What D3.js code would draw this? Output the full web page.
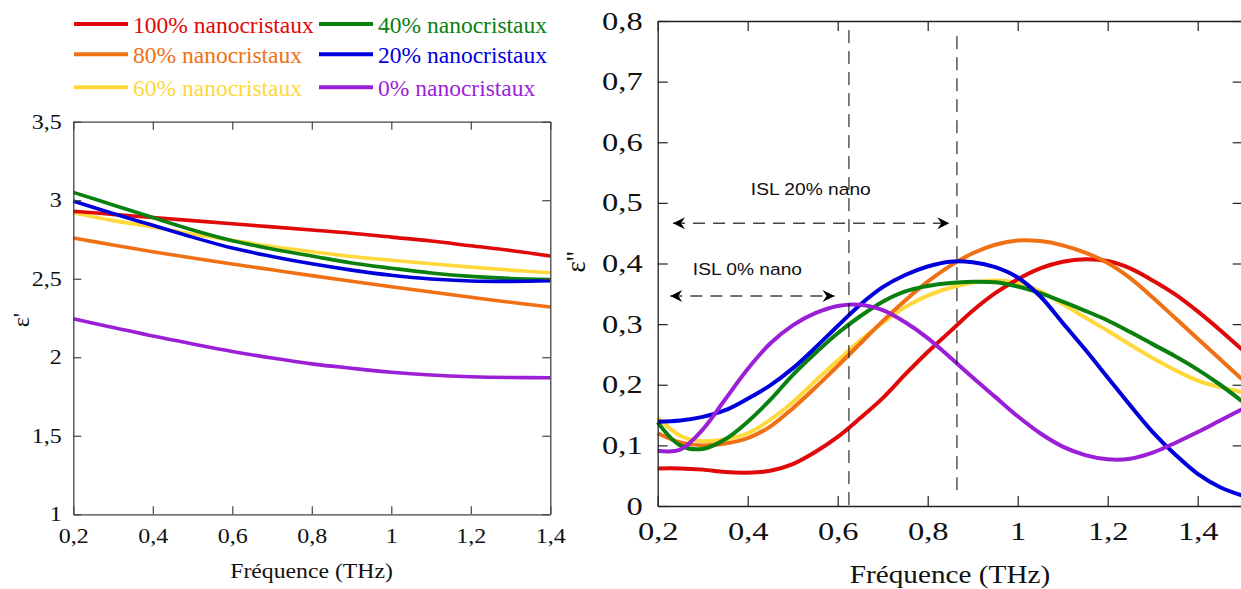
<!DOCTYPE html>
<html><head><meta charset="utf-8">
<script src="https://cdn.jsdelivr.net/npm/d3@7"></script>
<style>
html,body{margin:0;padding:0;background:#fff;}
svg{display:block;}
text{font-family:"Liberation Serif","Times New Roman",serif;}
.sans{font-family:"Liberation Sans",Arial,sans-serif;}
</style></head>
<body>
<svg id="chart" width="1241" height="589"></svg>
<script>
// ---------- DATA ----------
const seriesNames = ["100% nanocristaux","80% nanocristaux","60% nanocristaux","40% nanocristaux","20% nanocristaux","0% nanocristaux"];
const seriesColors = ["#e00808","#f07014","#ffd83c","#0a800f","#0000dc","#9b1fd6"];

// Left panel: epsilon' vs frequency (THz)
const freqLeft = [0.2,0.3,0.4,0.5,0.6,0.7,0.8,0.9,1.0,1.1,1.2,1.3,1.4];
const epsReal100 = [2.93,2.91,2.89,2.87,2.85,2.83,2.81,2.79,2.765,2.74,2.71,2.68,2.645];
const epsReal80  = [2.76,2.715,2.672,2.632,2.594,2.557,2.52,2.484,2.449,2.415,2.382,2.35,2.32];
const epsReal60  = [2.92,2.87,2.83,2.785,2.745,2.705,2.672,2.642,2.618,2.595,2.574,2.555,2.538];
const epsReal40  = [3.05,2.97,2.89,2.81,2.742,2.69,2.645,2.60,2.567,2.537,2.515,2.502,2.495];
const epsReal20  = [2.995,2.915,2.84,2.765,2.695,2.642,2.595,2.555,2.522,2.498,2.486,2.483,2.487];
const epsReal0   = [2.245,2.19,2.135,2.085,2.037,1.995,1.958,1.93,1.905,1.887,1.876,1.871,1.87];

// Right panel: epsilon'' vs frequency (THz)
const freqRight = [0.2,0.25,0.3,0.35,0.4,0.45,0.5,0.55,0.6,0.65,0.7,0.75,0.8,0.85,0.9,0.95,1.0,1.05,1.1,1.15,1.2,1.25,1.3,1.35,1.4,1.45,1.5];
const epsImag100 = [0.062,0.062,0.06,0.056,0.055,0.058,0.069,0.089,0.114,0.145,0.178,0.217,0.254,0.288,0.322,0.351,0.374,0.392,0.403,0.407,0.404,0.392,0.372,0.349,0.321,0.29,0.257];
const epsImag80  = [0.12,0.105,0.1,0.103,0.112,0.131,0.161,0.195,0.231,0.268,0.305,0.339,0.37,0.396,0.417,0.431,0.438,0.437,0.43,0.418,0.401,0.376,0.344,0.31,0.276,0.242,0.208];
const epsImag60  = [0.146,0.116,0.107,0.11,0.12,0.142,0.171,0.206,0.24,0.273,0.302,0.328,0.347,0.36,0.368,0.372,0.368,0.354,0.333,0.311,0.289,0.266,0.244,0.224,0.207,0.196,0.188];
const epsImag40  = [0.138,0.1,0.094,0.11,0.139,0.175,0.216,0.252,0.285,0.313,0.337,0.354,0.363,0.368,0.37,0.369,0.362,0.351,0.337,0.322,0.306,0.287,0.267,0.247,0.225,0.2,0.172];
const epsImag20  = [0.139,0.141,0.147,0.158,0.177,0.199,0.227,0.261,0.297,0.332,0.361,0.381,0.395,0.403,0.402,0.394,0.377,0.346,0.302,0.258,0.212,0.166,0.122,0.085,0.053,0.031,0.017];
const epsImag0   = [0.091,0.093,0.126,0.176,0.226,0.268,0.298,0.318,0.33,0.332,0.323,0.303,0.277,0.245,0.212,0.18,0.148,0.12,0.098,0.084,0.077,0.078,0.088,0.104,0.122,0.141,0.16];

// Ticks
const leftXTicks  = [0.2,0.4,0.6,0.8,1.0,1.2,1.4];
const leftYTicks  = [1,1.5,2,2.5,3,3.5];
const rightXTicks = [0.2,0.4,0.6,0.8,1.0,1.2,1.4];
const rightYTicks = [0,0.1,0.2,0.3,0.4,0.5,0.6,0.7,0.8];

// Annotations (data coordinates)
const islLabels = ["ISL 20% nano","ISL 0% nano"];
const islTextPos = [[0.407,0.513],[0.278,0.381]];
const islArrows = [[0.234,0.848,0.4665],[0.228,0.593,0.3465]];
const islVLines = [[0.625,0.785,0.0],[0.865,0.775,0.018]];

// ---------- DRAW ----------
const svg = d3.select("#chart");
const fmt = d => String(+d.toFixed(2)).replace(".", ",");

const leftData = [epsReal100,epsReal80,epsReal60,epsReal40,epsReal20,epsReal0];
const rightData = [epsImag100,epsImag80,epsImag60,epsImag40,epsImag20,epsImag0];
const drawOrder = [2,0,1,3,4,5];

function panel(cfg) {
  const x = d3.scaleLinear().domain(cfg.xDomain).range([cfg.x0, cfg.x1]);
  const y = d3.scaleLinear().domain(cfg.yDomain).range([cfg.y1, cfg.y0]);
  const g = svg.append("g");

  const line = d3.line().x(d => x(d[0])).y(d => y(d[1])).curve(d3.curveCatmullRom.alpha(0.5));
  drawOrder.forEach(i => {
    const pts = cfg.freq.map((f, k) => [f, cfg.data[i][k]]);
    g.append("path").attr("d", line(pts)).attr("fill", "none")
      .attr("stroke", seriesColors[i]).attr("stroke-width", cfg.lw)
      .attr("stroke-linejoin", "round").attr("stroke-linecap", "butt");
  });

  const axStyle = sel => {
    sel.select(".domain").attr("stroke", cfg.frameColor).attr("stroke-width", 1.3);
    sel.selectAll(".tick line").attr("stroke", cfg.frameColor).attr("stroke-width", 1.2);
  };
  const gb = g.append("g").attr("transform", `translate(0,${cfg.y1})`)
    .call(d3.axisBottom(x).tickValues(cfg.xTicks).tickSizeInner(-cfg.tick).tickSizeOuter(0)
      .tickPadding(cfg.xPad).tickFormat(fmt));
  axStyle(gb);
  gb.selectAll("text").attr("font-size", cfg.fs).attr("fill", "#111")
    .style("font-family", "'Liberation Serif','Times New Roman',serif")
    .attr("transform", `scale(${cfg.sx},1)`);
  const gt = g.append("g").attr("transform", `translate(0,${cfg.y0})`)
    .call(d3.axisTop(x).tickValues(cfg.xTicks).tickSizeInner(-cfg.tick).tickSizeOuter(0).tickFormat(""));
  axStyle(gt);
  const gl = g.append("g").attr("transform", `translate(${cfg.x0},0)`)
    .call(d3.axisLeft(y).tickValues(cfg.yTicks).tickSizeInner(-cfg.tick).tickSizeOuter(0)
      .tickPadding(cfg.yGap / cfg.sx).tickFormat(fmt));
  axStyle(gl);
  gl.selectAll("text").attr("font-size", cfg.fs).attr("fill", "#111")
    .style("font-family", "'Liberation Serif','Times New Roman',serif")
    .attr("transform", `scale(${cfg.sx},1)`);
  const gr = g.append("g").attr("transform", `translate(${cfg.x1},0)`)
    .call(d3.axisRight(y).tickValues(cfg.yTicks).tickSizeInner(-cfg.tick).tickSizeOuter(0).tickFormat(""));
  axStyle(gr);

  g.append("text").attr("text-anchor", "middle")
    .attr("transform", `translate(${cfg.xTitle[0]},${cfg.xTitle[1]}) scale(${cfg.xTitleSx},1)`)
    .attr("font-size", cfg.xTitleFs).attr("fill", "#111").text("Fréquence (THz)");
  g.append("text").attr("text-anchor", "middle")
    .attr("transform", `translate(${cfg.yTitle[0]},${cfg.yTitle[1]}) rotate(-90)`)
    .attr("font-size", cfg.yTitleFs).attr("fill", "#111").text(cfg.yLabel);
  return {x, y, g};
}

panel({
  xDomain:[0.2,1.4], yDomain:[1,3.5], x0:73.3, x1:550.3, y0:121.7, y1:514.3,
  freq:freqLeft, data:leftData, lw:3.6, frameColor:"#444", tick:8,
  xTicks:leftXTicks, yTicks:leftYTicks, fs:20, sx:1.2, xPad:14.5, yGap:11.6,
  xTitle:[311.5,578], xTitleFs:21, xTitleSx:1.13, yTitle:[29,320], yTitleFs:24, yLabel:"ε'"
});

const R = panel({
  xDomain:[0.2,1.5], yDomain:[0,0.8], x0:657.7, x1:1242.7, y0:21, y1:506,
  freq:freqRight, data:rightData, lw:4, frameColor:"#222", tick:10,
  xTicks:rightXTicks, yTicks:rightYTicks, fs:25, sx:1.3, xPad:16.3, yGap:15,
  xTitle:[950,583], xTitleFs:25, xTitleSx:1.17, yTitle:[585,262], yTitleFs:27, yLabel:"ε''"
});

const defs = svg.append("defs");
defs.append("marker").attr("id","arr").attr("viewBox","-13 -7 14 14")
  .attr("refX",0).attr("refY",0).attr("markerWidth",14).attr("markerHeight",14)
  .attr("markerUnits","userSpaceOnUse").attr("orient","auto-start-reverse")
  .append("path").attr("d","M0,0 L-12,-6 L-8,0 L-12,6 Z").attr("fill","#000");

islVLines.forEach(v => {
  R.g.append("line").attr("x1", R.x(v[0])).attr("x2", R.x(v[0]))
    .attr("y1", R.y(v[1])).attr("y2", R.y(v[2]))
    .attr("stroke", "#000").attr("stroke-width", 1).attr("stroke-dasharray", "13,8");
});
islArrows.forEach(a => {
  R.g.append("line").attr("x1", R.x(a[0])).attr("x2", R.x(a[1]))
    .attr("y1", R.y(a[2])).attr("y2", R.y(a[2]))
    .attr("stroke", "#444").attr("stroke-width", 1.5).attr("stroke-dasharray", "12,8")
    .attr("marker-start","url(#arr)").attr("marker-end","url(#arr)");
});
islLabels.forEach((t, i) => {
  R.g.append("text").attr("class","sans")
    .attr("transform", `translate(${R.x(islTextPos[i][0])},${R.y(islTextPos[i][1])}) scale(1.13,1)`)
    .attr("font-size", 17).attr("fill", "#111").text(t);
});

const legCols = [[74,128,133],[319,373,378]];
const legRows = [24,54.3,87.3];
seriesNames.forEach((name, i) => {
  const c = legCols[Math.floor(i / 3)], r = legRows[i % 3];
  const lg = svg.append("g");
  lg.append("line").attr("x1", c[0]).attr("x2", c[1]).attr("y1", r).attr("y2", r)
    .attr("stroke", seriesColors[i]).attr("stroke-width", 4);
  lg.append("text").attr("x", c[2]).attr("y", r + 8.8).attr("font-size", 23.5)
    .attr("fill", seriesColors[i]).text(name);
});
</script>
</body></html>
